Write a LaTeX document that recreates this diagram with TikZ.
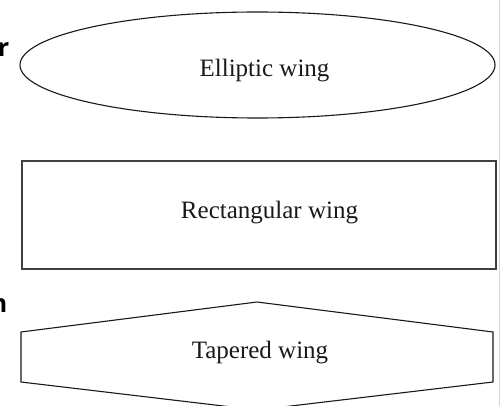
\documentclass[tikz,border=0pt]{standalone}
\usepackage{fontspec}
\setmainfont{Liberation Serif}
\newfontfamily\fragfont{Open Sans}
\begin{document}
\begin{tikzpicture}[x=1pt,y=-1pt,
  lbl/.style={font=\fontsize{25}{28}\selectfont, anchor=base, inner sep=0pt, text=black!90},
  frag/.style={font=\fragfont\fontsize{25}{28}\selectfont\bfseries, anchor=base east, inner sep=0pt},
  outline/.style={draw=black!90, line width=1.1pt}]
\useasboundingbox (0,0) rectangle (500,406);
\fill[white] (0,0) rectangle (500,406);
% shapes
\draw[outline] (257.5,65) ellipse [x radius=237.5, y radius=53];
\draw[outline, draw=black!75, line width=1.5pt] (22,161) rectangle (496,269);
\draw[outline] (21,332) -- (257,302) -- (493,332) -- (493,382) -- (257,410) -- (21,382) -- cycle;
% labels
\node[lbl] (ell) at (264.5,77) {Elliptic wing};
\node[lbl] (rect) at (269.5,218) {Rectangular wing};
\node[lbl] (tap) at (260,358) {Tapered wing};
% cut-off fragments at left
\node[frag] (fr) at (9.5,57) {r};
\node[frag] (fn) at (7.5,312) {n};
% yellow edge
\draw[yellow!90!orange, line width=1pt] (499.4,0) -- (499.4,406);
\end{tikzpicture}
\end{document}
